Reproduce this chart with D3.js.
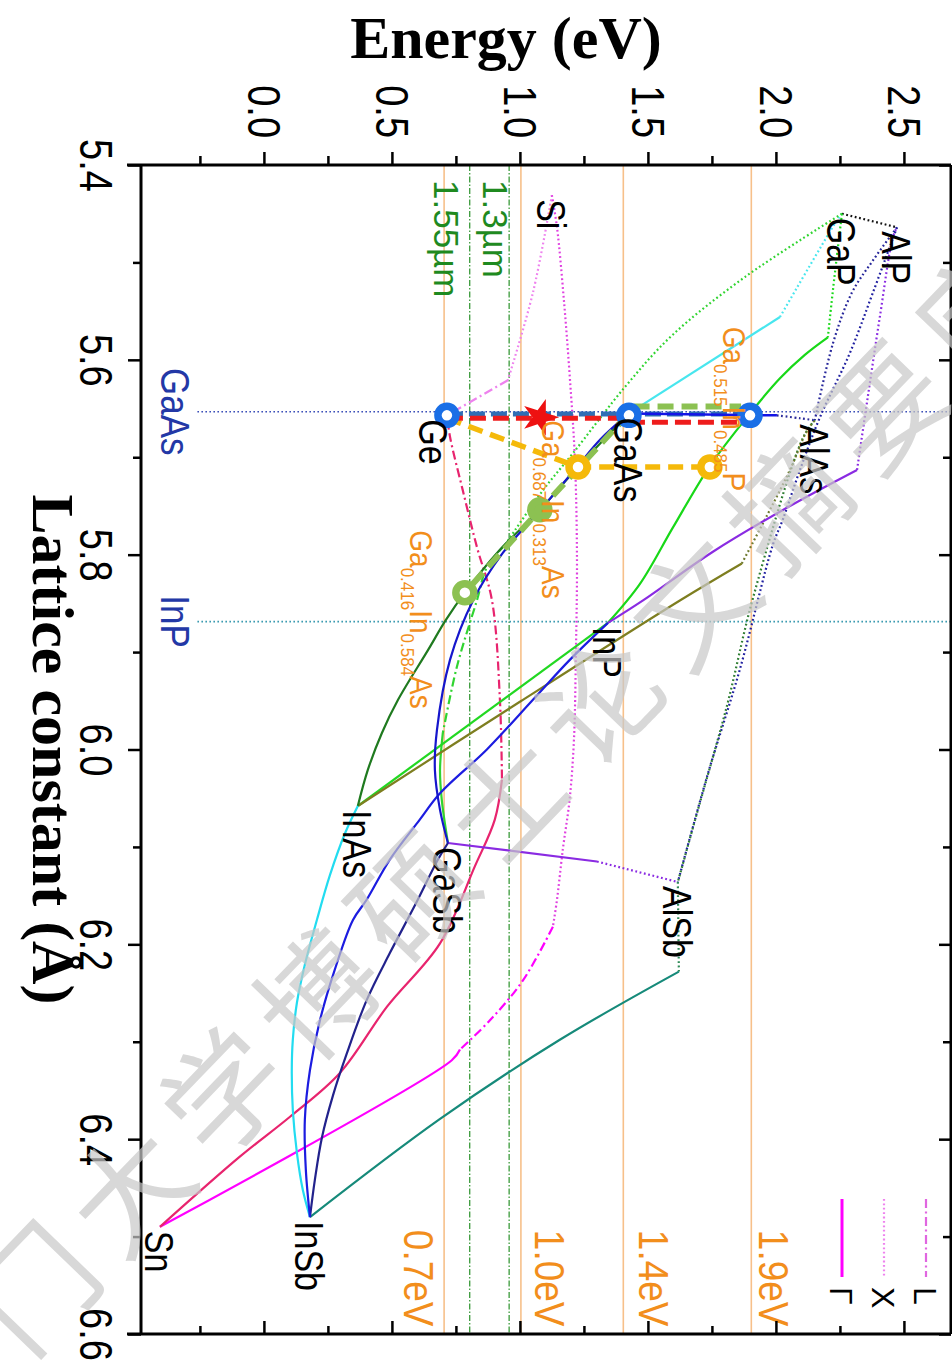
<!DOCTYPE html>
<html lang="en">
<head>
<meta charset="UTF-8">
<title>Band gap vs lattice constant</title>
<script src="https://d3js.org/d3.v7.min.js"></script>
<style>
  body { margin: 0; background: #fff; }
  svg text { font-family: "Liberation Sans", Arial, sans-serif; }
</style>
</head>
<body>
<svg width="952" height="1363"></svg>
<script>
// ---- data: [lattice constant (A), energy (eV)] ----
const binaryNames = ["Si", "GaP", "AlP", "Ge", "GaAs", "AlAs", "InP", "InAs", "GaSb", "AlSb", "InSb", "Sn"];
const binaryA = [5.431, 5.450, 5.464, 5.657, 5.655, 5.662, 5.870, 6.058, 6.096, 6.136, 6.480, 6.490];
const binaryE = [1.121, 2.254, 2.469, 0.711, 1.422, 2.148, 1.340, 0.363, 0.715, 1.613, 0.176, -0.410];

const SiGe_X = [[5.431,1.121],[5.531,1.047],[5.621,0.949]];
const SiGe_L = [[5.621,0.949],[5.657,0.711]];
const SiSn_X = [[5.431,1.121],[5.464,1.141],[5.539,1.168],[5.618,1.191],[5.703,1.211],[5.805,1.219],[5.898,1.215],[5.991,1.207],[6.052,1.190],[6.102,1.164],[6.154,1.141],[6.182,1.125]];
const SiSn_L = [[6.182,1.125],[6.237,1.008],[6.278,0.879],[6.308,0.762]];
const SiSn_G = [[6.308,0.762],[6.319,0.730],[6.490,-0.410]];
const GeSn_L = [[5.657,0.711],[5.679,0.723],[5.734,0.773],[5.792,0.828],[5.847,0.887],[5.949,0.918],[6.031,0.926]];
const GeSn_G = [[6.031,0.926],[6.072,0.898],[6.120,0.820],[6.199,0.684],[6.264,0.477],[6.332,0.293],[6.377,0.098],[6.418,-0.098],[6.490,-0.410]];
const GaAsP_G = [[5.655,1.422],[5.556,2.012]];
const GaAsP_X = [[5.556,2.012],[5.460,2.227],[5.450,2.254]];
const GaInP_X = [[5.450,2.254],[5.528,2.219],[5.577,2.199]];
const GaInP_G = [[5.577,2.199],[5.595,2.109],[5.619,2.012],[5.655,1.895],[5.709,1.738],[5.772,1.594],[5.830,1.465],[5.870,1.340]];
const InAsP_G = [[5.870,1.340],[6.058,0.363]];
const GaPSb_X = [[5.450,2.254],[5.515,1.875],[5.575,1.590],[5.628,1.406],[5.696,1.203],[5.734,1.086],[5.790,0.938]];
const GaPSb_L = [[5.790,0.938],[5.813,0.867],[5.847,0.828],[5.915,0.750],[5.983,0.695]];
const GaPSb_G = [[5.983,0.695],[6.021,0.684],[6.052,0.691],[6.096,0.715]];
const AlGaAs_G = [[5.655,1.422],[5.657,2.000]];
const AlGaAs_X = [[5.657,2.000],[5.660,2.090],[5.662,2.148]];
const GaAsSb_G = [[5.655,1.422],[5.682,1.309],[5.710,1.219],[5.751,1.086],[5.798,0.930],[5.847,0.813],[5.908,0.723],[5.980,0.672],[6.021,0.664],[6.062,0.684],[6.096,0.715]];
const InPSb_G = [[5.870,1.340],[5.908,1.191],[5.949,1.047],[6.000,0.867],[6.045,0.684],[6.072,0.605],[6.113,0.488],[6.154,0.398],[6.175,0.344],[6.226,0.273],[6.278,0.215],[6.329,0.176],[6.380,0.156],[6.432,0.160],[6.480,0.176]];
const GaInSb_G = [[6.096,0.715],[6.113,0.676],[6.160,0.586],[6.209,0.488],[6.257,0.398],[6.312,0.320],[6.355,0.266],[6.398,0.223],[6.442,0.195],[6.480,0.176]];
const InAsSb_G = [[6.058,0.363],[6.086,0.313],[6.129,0.254],[6.175,0.203],[6.221,0.156],[6.260,0.125],[6.298,0.109],[6.329,0.105],[6.370,0.109],[6.414,0.125],[6.452,0.148],[6.480,0.176]];
const GaInAs_G = [[6.058,0.363],[6.021,0.402],[5.983,0.457],[5.949,0.520],[5.898,0.637],[5.867,0.707],[5.839,0.781],[5.795,0.918],[5.754,1.074],[5.708,1.230],[5.655,1.422]];
const AlInAs_G = [[6.058,0.363],[5.951,0.996],[5.847,1.621],[5.809,1.863]];
const AlInAs_X = [[5.809,1.863],[5.764,1.953],[5.713,2.051],[5.673,2.117],[5.662,2.148]];
const AlInP_G = [[5.870,1.340],[5.847,1.477],[5.797,1.750],[5.750,2.051],[5.713,2.313]];
const AlInP_X = [[5.713,2.313],[5.638,2.355],[5.556,2.402],[5.474,2.453],[5.464,2.469]];
const AlGaSb_G = [[6.096,0.715],[6.115,1.297]];
const AlGaSb_X = [[6.115,1.297],[6.136,1.613]];
const AlGaP_X = [[5.450,2.254],[5.464,2.469]];
const AlAsP_X = [[5.464,2.469],[5.498,2.375],[5.531,2.293],[5.583,2.219],[5.662,2.148]];
const AlPSb_X = [[5.464,2.469],[5.531,2.375],[5.593,2.285],[5.659,2.168],[5.713,2.090],[5.764,2.023],[5.790,1.984],[5.918,1.855],[6.028,1.727],[6.136,1.613]];
const AlAsSb_X = [[5.662,2.148],[5.680,2.102],[5.845,1.906],[5.955,1.805],[6.065,1.688],[6.136,1.613]];
const AlInSb_X = [[6.136,1.613],[6.228,1.617]];
const AlInSb_G = [[6.228,1.617],[6.298,1.152],[6.380,0.680],[6.480,0.176]];

// cell design paths and points
const pathBlue = [[5.6555,0.711],[5.6555,1.895]];
const pathRed1 = [[5.660,0.711],[5.660,1.422]];
const pathRed2 = [[5.664,1.422],[5.664,1.895]];
const pathGreen1 = [[5.648,1.44],[5.648,1.86]];
const pathGreen2 = [[5.655,1.422],[5.754,1.074],[5.839,0.781]];
const pathGold = [[5.660,0.711],[5.710,1.223],[5.710,1.738]];
const ringBlue = [[5.657,0.711],[5.657,1.422],[5.657,1.895]];
const ringGold = [[5.710,1.223],[5.710,1.738]];
const dotGreen = [[5.754,1.074]];
const ringGreen = [[5.839,0.781]];
const dotRed = [[5.659,1.074]];

// reference lines
const gapEnergies = [0.7, 1.0, 1.4, 1.9];
const gapLabels = ["0.7eV", "1.0eV", "1.4eV", "1.9eV"];
const wlLabels = ["1.3\u00b5m", "1.55\u00b5m"];
const wlEnergies = [0.954, 0.800];
const substrates = ["GaAs", "InP"];
const substrateA = [5.6533, 5.8687];

// ticks
const eMajor = [0, 0.5, 1.0, 1.5, 2.0, 2.5];
const eMinor = [-0.25, 0.25, 0.75, 1.25, 1.75, 2.25];
const aMajor = [5.4, 5.6, 5.8, 6.0, 6.2, 6.4, 6.6];
const aMinor = [5.5, 5.7, 5.9, 6.1, 6.3, 6.5];

const legendBands = ["L", "X", "G"];
const legendText = ["L", "X", "\u0393"];

const segments = [
  ["AlGaP","X",AlGaP_X], ["AlAsP","X",AlAsP_X], ["AlPSb","X",AlPSb_X], ["AlAsSb","X",AlAsSb_X],
  ["SiGe","X",SiGe_X], ["SiGe","L",SiGe_L],
  ["SiSn","X",SiSn_X], ["SiSn","L",SiSn_L], ["SiSn","G",SiSn_G],
  ["GeSn","L",GeSn_L], ["GeSn","G",GeSn_G],
  ["GaAsP","G",GaAsP_G], ["GaAsP","X",GaAsP_X],
  ["GaInP","X",GaInP_X], ["GaInP","G",GaInP_G],
  ["GaPSb","X",GaPSb_X], ["GaPSb","L",GaPSb_L], ["GaPSb","G",GaPSb_G],
  ["InAsP","G",InAsP_G],
  ["AlInAs","G",AlInAs_G], ["AlInAs","X",AlInAs_X],
  ["AlInP","G",AlInP_G], ["AlInP","X",AlInP_X],
  ["AlGaSb","G",AlGaSb_G], ["AlGaSb","X",AlGaSb_X],
  ["AlInSb","X",AlInSb_X], ["AlInSb","G",AlInSb_G],
  ["GaInAs","G",GaInAs_G],
  ["InAsSb","G",InAsSb_G], ["GaInSb","G",GaInSb_G], ["InPSb","G",InPSb_G],
  ["GaAsSb","G",GaAsSb_G],
  ["AlGaAs","X",AlGaAs_X]
];

const segColor = {
  SiGe: "#ee82ee", SiSn: "#ff00ff", "SiSn:X": "#e040e0", GeSn: "#e8246e",
  GaAsP: "#48e6ee", GaInP: "#18d818", InAsP: "#22d822", GaPSb: "#30d430",
  AlGaAs: "#1414e6", "AlGaAs:X": "#2a2a9a", GaAsSb: "#1616cc", InPSb: "#1c1ce0",
  GaInSb: "#22228c", InAsSb: "#22dcf0", GaInAs: "#1f7a1f",
  AlInAs: "#7e7e20", "AlInAs:X": "#6e7a30", AlInP: "#8a2be2", AlGaSb: "#8a2be2",
  AlGaP: "#111111", AlAsP: "#25259a", AlPSb: "#1f1fa0", AlAsSb: "#2e7d32",
  AlInSb: "#168a7a", "AlInSb:X": "#2e8b57"
};
const bandStyle = {
  G: { dash: null, width: 2.2 },
  X: { dash: "1.8,2.6", width: 2.2 },
  L: { dash: "9,3.5,2,3.5", width: 2.2 }
};
const legendColor = { G: "#ff00ff", X: "#ee82ee", L: "#e066e0" };

// ---- layout: chart is drawn in its own frame and turned 90 degrees ----
const svg = d3.select("svg");
const W = 1169, H = 810;
const x = d3.scaleLinear().domain([5.4, 6.6]).range([0, W]);
const y = d3.scaleLinear().domain([-0.484, 2.68]).range([H, 0]);
const g = svg.append("g").attr("transform", "translate(951,165) rotate(90)");

function label(parent, u, v, txt, size, color, stretch, anchor) {
  return parent.append("text")
    .attr("transform", `translate(${u},${v}) scale(1,${stretch})`)
    .attr("dy", "0.36em")
    .attr("font-size", size)
    .attr("fill", color)
    .attr("text-anchor", anchor || "start")
    .text(txt);
}

// reference lines
g.append("g").selectAll("line").data(gapEnergies).join("line")
  .attr("x1", 0).attr("x2", W).attr("y1", d => y(d)).attr("y2", d => y(d))
  .attr("stroke", "#f7c08a").attr("stroke-width", 1.6);
g.append("g").selectAll("line").data(wlEnergies).join("line")
  .attr("x1", 0).attr("x2", W).attr("y1", d => y(d)).attr("y2", d => y(d))
  .attr("stroke", "#3a9a3a").attr("stroke-width", 1.3).attr("stroke-dasharray", "6,2,1.5,2");
g.append("g").selectAll("line").data(substrateA).join("line")
  .attr("x1", d => x(d)).attr("x2", d => x(d)).attr("y1", 0).attr("y2", 756)
  .attr("stroke", (d, i) => i === 0 ? "#3b4fb8" : "#3a9ab0")
  .attr("stroke-width", 1.6).attr("stroke-dasharray", "1.6,2.4");

// alloy curves
const lineGen = d3.line().x(d => x(d[0])).y(d => y(d[1])).curve(d3.curveCatmullRom.alpha(0.5));
g.append("g").selectAll("path").data(segments).join("path")
  .attr("d", d => lineGen(d[2]))
  .attr("fill", "none")
  .attr("stroke", d => segColor[d[0] + ":" + d[1]] || segColor[d[0]])
  .attr("stroke-width", d => bandStyle[d[1]].width)
  .attr("stroke-dasharray", d => bandStyle[d[1]].dash);

// design paths
const straight = d3.line().x(d => x(d[0])).y(d => y(d[1]));
function dashPath(pts, color, width, dash) {
  g.append("path").attr("d", straight(pts)).attr("fill", "none")
    .attr("stroke", color).attr("stroke-width", width).attr("stroke-dasharray", dash);
}
dashPath(pathBlue, "#2f6eb5", 5, "16,6");
dashPath(pathGreen1, "#8cc152", 6, "16,8");
dashPath(pathGreen2, "#8cc152", 6, "16,8");
dashPath(pathGold, "#f5b90a", 5.5, "15,8");
dashPath(pathRed1, "#ee1c1c", 5, "16,7");
dashPath(pathRed2, "#ee1c1c", 5, "16,7");
g.append("path").attr("d", lineGen(AlGaAs_G)).attr("fill", "none")
  .attr("stroke", segColor.AlGaAs).attr("stroke-width", 2.5);

// markers
function rings(pts, color, fill) {
  g.append("g").selectAll("circle").data(pts).join("circle")
    .attr("cx", d => x(d[0])).attr("cy", d => y(d[1])).attr("r", 9)
    .attr("fill", fill).attr("stroke", color).attr("stroke-width", 7.5);
}
rings(ringBlue, "#1a6fe6", "#fff");
rings(ringGold, "#f5b90a", "#fff");
rings(dotGreen, "#8cc152", "#8cc152");
rings(ringGreen, "#8cc152", "#fff");
g.append("g").selectAll("path").data(dotRed).join("path")
  .attr("transform", d => `translate(${x(d[0])},${y(d[1])})`)
  .attr("d", d3.symbol(d3.symbolStar, 420))
  .attr("fill", "#ee1111");

// binary labels
const nudge = { Ge: 13 };
binaryNames.forEach((n, i) => {
  label(g, x(binaryA[i]) + 4, y(binaryE[i]) + (nudge[n] || 0), n, 34, "#000", 1.2);
});

// substrate labels
substrates.forEach((n, i) => label(g, x(substrateA[i]), 776, n, 35, "#2338a6", 1.15, "middle"));

// energy line labels
const gapShift = [25, -29, -31, -23];
gapEnergies.forEach((e, i) => label(g, x(6.49) + 3, y(e) + gapShift[i], gapLabels[i], 37, "#f28e1c", 1.15));
const wlShift = [14, 23];
wlEnergies.forEach((e, i) => label(g, 15, y(e) + wlShift[i], wlLabels[i], 35, "#1f8a1f", 1.0));

// composition labels
const alloyLabels = [
  { a: 5.566, e: 1.789, parts: [["Ga",0],["0.515",1],["In",0],["0.485",1],["P",0]] },
  { a: 5.662, e: 1.082, parts: [["Ga",0],["0.687",1],["In",0],["0.313",1],["As",0]] },
  { a: 5.775, e: 0.566, parts: [["Ga",0],["0.416",1],["In",0],["0.584",1],["As",0]] }
];
alloyLabels.forEach(l => {
  const t = g.append("text")
    .attr("transform", `translate(${x(l.a)},${y(l.e)}) scale(1,1.1)`)
    .attr("fill", "#f28e1c");
  let prevSub = 0;
  l.parts.forEach(([s, sub]) => {
    t.append("tspan").attr("font-size", sub ? 17 : 28)
      .attr("dy", sub && !prevSub ? 8 : (!sub && prevSub ? -8 : 0)).text(s);
    prevSub = sub;
  });
});

// legend
legendBands.forEach((b, i) => {
  const v = 25 + i * 42;
  g.append("line").attr("x1", 1034).attr("x2", 1112).attr("y1", v).attr("y2", v)
    .attr("stroke", legendColor[b]).attr("stroke-width", b === "G" ? 3 : 2.2)
    .attr("stroke-dasharray", bandStyle[b].dash);
  label(g, 1122, v, legendText[i], 32, "#000", 1.0);
});

// axes
function styleTicks(sel) {
  sel.select(".domain").remove();
  sel.selectAll("line").attr("stroke", "#000").attr("stroke-width", 2.5);
}
g.append("g").call(d3.axisLeft(y).tickValues(eMajor).tickSize(13).tickPadding(14).tickFormat(d3.format(".1f")))
  .call(styleTicks)
  .call(s => s.selectAll("text").attr("font-size", 38).attr("fill", "#000").attr("dy", "0.36em").attr("transform", "scale(1,1.2)"));
g.append("g").call(d3.axisLeft(y).tickValues(eMinor).tickSize(9).tickFormat("")).call(styleTicks);
g.append("g").attr("transform", `translate(${W},0)`)
  .call(d3.axisLeft(y).tickValues(eMajor).tickSize(13).tickFormat("")).call(styleTicks);
g.append("g").attr("transform", `translate(${W},0)`)
  .call(d3.axisLeft(y).tickValues(eMinor).tickSize(8).tickFormat("")).call(styleTicks);
g.append("g").attr("transform", `translate(0,${H})`)
  .call(d3.axisBottom(x).tickValues(aMajor).tickSize(13).tickFormat(d3.format(".1f")))
  .call(styleTicks)
  .call(s => s.selectAll("text").attr("font-size", 38).attr("fill", "#000").attr("y", 24).attr("transform", "scale(1,1.2)"));
g.append("g").attr("transform", `translate(0,${H})`)
  .call(d3.axisBottom(x).tickValues(aMinor).tickSize(8).tickFormat("")).call(styleTicks);
g.append("g").call(d3.axisBottom(x).tickValues(aMajor).tickSize(12).tickFormat("")).call(styleTicks);
g.append("g").call(d3.axisBottom(x).tickValues(aMinor).tickSize(8).tickFormat("")).call(styleTicks);

// frame
[[0, 0, 0, H + 14], [W, 0, W, H + 14], [0, H, W, H], [0, 0, W, 0]].forEach(f => {
  g.append("line").attr("x1", f[0]).attr("y1", f[1]).attr("x2", f[2]).attr("y2", f[3])
    .attr("stroke", "#000").attr("stroke-width", 3);
});

// axis titles
g.append("text").attr("x", W / 2).attr("y", 918).attr("text-anchor", "middle")
  .style("font-family", "'Liberation Serif', 'Times New Roman', serif")
  .attr("font-weight", "bold").attr("font-size", 60).text("Lattice constant (\u00c5)");
svg.append("text").attr("x", 506).attr("y", 58).attr("text-anchor", "middle")
  .style("font-family", "'Liberation Serif', 'Times New Roman', serif")
  .attr("font-weight", "bold").attr("font-size", 60).text("Energy (eV)");

// watermark
const mark = "\u53a6\u95e8\u5927\u5b66\u535a\u7855\u58eb\u8bba\u6587\u6458\u8981\u5e93";
svg.append("g").selectAll("text").data(Array.from(mark)).join("text")
  .attr("transform", (d, i) => `translate(${38 + (i - 1) * 94.1},${1290 - (i - 1) * 97.8}) rotate(-46)`)
  .attr("text-anchor", "middle").attr("dy", "0.35em")
  .style("font-family", "'Noto Sans CJK SC', sans-serif")
  .attr("font-size", 118).attr("fill", "#c8c8c8").attr("opacity", 0.7)
  .text(d => d);
</script>
</body>
</html>
